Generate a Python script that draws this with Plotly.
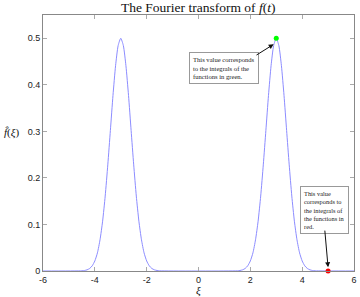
import plotly.graph_objects as go

# Curve samples (two bumps centered at -3 and 3)
xi = [-6.0, -4.5, -4.4, -4.3, -4.2, -4.1, -4.0, -3.9, -3.8, -3.7, -3.6, -3.5, -3.4, -3.3, -3.2, -3.1,
      -3.0, -2.9, -2.8, -2.7, -2.6, -2.5, -2.4, -2.3, -2.2, -2.1, -2.0, -1.9, -1.8, -1.7, -1.6, -1.5,
      1.5, 1.6, 1.7, 1.8, 1.9, 2.0, 2.1, 2.2, 2.3, 2.4, 2.5, 2.6, 2.7, 2.8, 2.9,
      3.0, 3.1, 3.2, 3.3, 3.4, 3.5, 3.6, 3.7, 3.8, 3.9, 4.0, 4.1, 4.2, 4.3, 4.4, 4.5, 6.0]
fhat = [0.0, 0.0004, 0.0011, 0.0025, 0.0054, 0.0112, 0.0216, 0.039, 0.067, 0.107, 0.161, 0.228, 0.302, 0.377, 0.441, 0.4845,
        0.5, 0.4845, 0.441, 0.377, 0.302, 0.228, 0.161, 0.107, 0.067, 0.039, 0.0216, 0.0112, 0.0054, 0.0025, 0.0011, 0.0004,
        0.0004, 0.0011, 0.0025, 0.0054, 0.0112, 0.0216, 0.039, 0.067, 0.107, 0.161, 0.228, 0.302, 0.377, 0.441, 0.4845,
        0.5, 0.4845, 0.441, 0.377, 0.302, 0.228, 0.161, 0.107, 0.067, 0.039, 0.0216, 0.0112, 0.0054, 0.0025, 0.0011, 0.0004, 0.0]

green_pt = [3.0, 0.5]
red_pt = [5.0, 0.0]

x_ticks = [-6, -4, -2, 0, 2, 4, 6]
y_ticks = [0, 0.1, 0.2, 0.3, 0.4, 0.5]

green_note = "This value corresponds<br>to the integrals of the<br>functions in green."
red_note = "This value<br>corresponds to<br>the integrals of<br>the functions in<br>red."

serif = "Liberation Serif, DejaVu Serif, serif"
sans = "Liberation Sans, Arial, sans-serif"

fig = go.Figure()
fig.add_trace(go.Scatter(x=xi, y=fhat, mode="lines", line=dict(color="#8c8cff", width=1, shape="spline", smoothing=0.6),
                         hoverinfo="skip", showlegend=False))
fig.add_trace(go.Scatter(x=[green_pt[0]], y=[green_pt[1]], mode="markers",
                         marker=dict(color="#00ff00", size=5), showlegend=False, cliponaxis=False))
fig.add_trace(go.Scatter(x=[red_pt[0]], y=[red_pt[1]], mode="markers",
                         marker=dict(color="#ff0000", size=5), showlegend=False, cliponaxis=False))

axis_common = dict(showline=True, linecolor="#888888", linewidth=1, mirror="ticks", ticks="inside",
                   ticklen=4, tickcolor="#aaaaaa", showgrid=False, zeroline=False,
                   tickfont=dict(family=sans, size=9, color="#222222"))

fig.update_xaxes(range=[-6, 6], tickvals=x_ticks, ticktext=[str(v) for v in x_ticks], **axis_common)
fig.update_yaxes(range=[0, 0.55], tickvals=y_ticks, ticktext=["0", "0.1", "0.2", "0.3", "0.4", "0.5"], **axis_common)

annotations = [
    dict(text="The Fourier transform of <i>f</i>(<i>t</i>)", xref="paper", yref="paper", x=0.5, y=1.0,
         yshift=8, showarrow=False, font=dict(family=serif, size=13.5, color="#111111"), yanchor="middle"),
    dict(text="<i>ξ</i>", xref="paper", yref="paper", x=0.5, y=0, yshift=-19, showarrow=False,
         font=dict(family=serif, size=11, color="#111111"), yanchor="middle"),
    dict(text="<i>f&#770;</i>(<i>ξ</i>)", xref="paper", yref="paper", x=0, y=0.5, xshift=-32,
         yshift=11, showarrow=False, font=dict(family=serif, size=11, color="#111111"), xanchor="center"),
    # note boxes
    dict(text=green_note, x=0.97, y=0.436, xref="x", yref="y", showarrow=False, align="left",
         font=dict(family=serif, size=6.6, color="#222222"), bgcolor="white", bordercolor="#999999",
         borderwidth=1, borderpad=3),
    dict(text=red_note, x=4.87, y=0.131, xref="x", yref="y", showarrow=False, align="left",
         font=dict(family=serif, size=6.4, color="#222222"), bgcolor="white", bordercolor="#999999",
         borderwidth=1, borderpad=3),
    # arrows
    dict(text="", x=2.9, y=0.487, xref="x", yref="y", ax=2.18, ay=0.462, axref="x", ayref="y",
         showarrow=True, arrowhead=2, arrowsize=1, arrowwidth=1, arrowcolor="#111111"),
    dict(text="", x=5.0, y=0.008, xref="x", yref="y", ax=4.87, ay=0.09, axref="x", ayref="y",
         showarrow=True, arrowhead=2, arrowsize=1, arrowwidth=1, arrowcolor="#111111"),
]
fig.update_layout(width=360, height=297, margin=dict(l=43, r=3, t=15, b=26),
                  paper_bgcolor="white", plot_bgcolor="white", annotations=annotations)

fig.write_html("out.html")
